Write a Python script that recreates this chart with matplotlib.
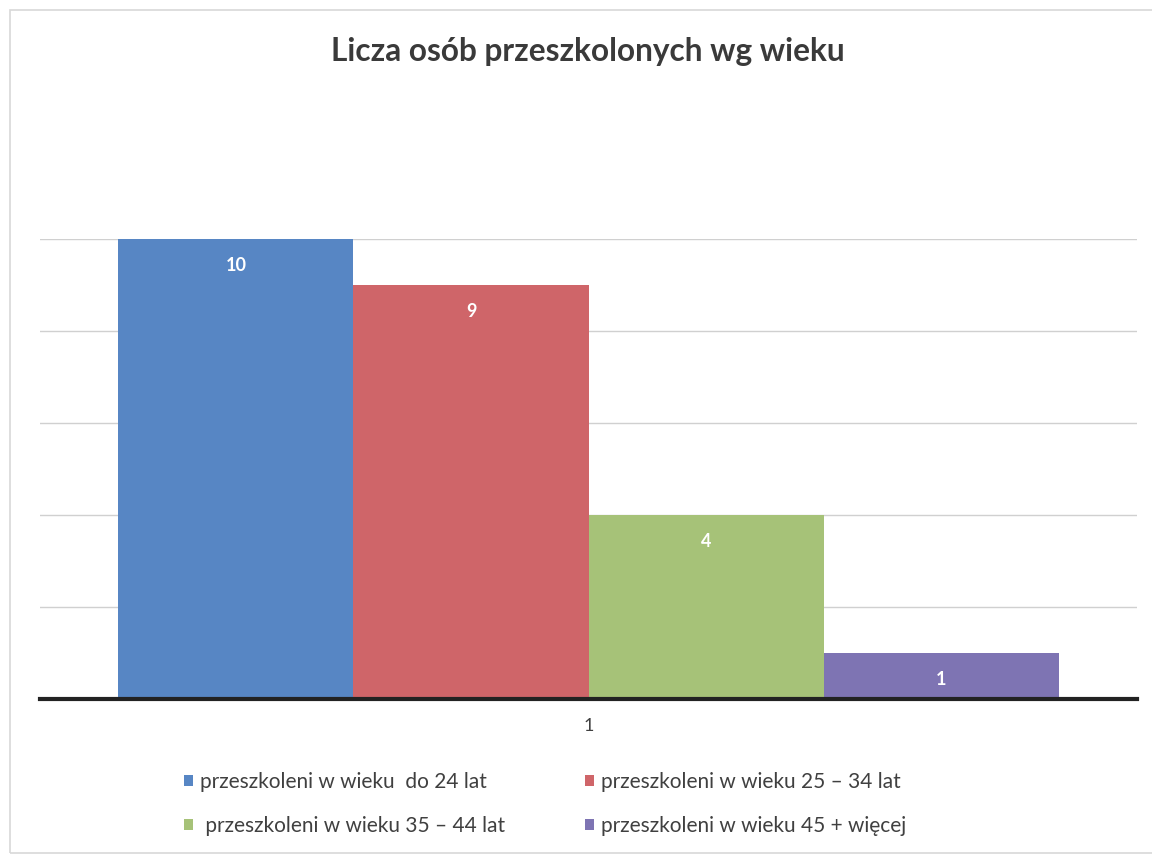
import numpy as np
import matplotlib.pyplot as plt
from matplotlib.patches import Rectangle

plt.rcParams['font.family'] = ['Lato', 'DejaVu Sans']

title = 'Licza osób przeszkolonych wg wieku'
series = ['przeszkoleni w wieku  do 24 lat',
          'przeszkoleni w wieku 25 – 34 lat',
          ' przeszkoleni w wieku 35 – 44 lat',
          'przeszkoleni w wieku 45 + więcej']
values = [10, 9, 4, 1]
colors = ['#5786C4', '#CF6569', '#A6C278', '#7E74B3']
category = ['1']

W, H = 1152, 855
fig = plt.figure(figsize=(W / 100, H / 100), dpi=100)

# faint chart frame
fig.patches.append(Rectangle((10 / W, 0.002), 1.1, 1 - 10 / H - 0.002, transform=fig.transFigure,
                             fill=False, edgecolor='#d8d8d8', lw=1.2))

ax = fig.add_axes([40 / W, 1 - 699 / H, (1137 - 40) / W, (699 - 239) / H])

x = np.arange(len(values)) - 1.5
bars = ax.bar(x, values, width=1.0, color=colors, label=series, zorder=2)
for b, v in zip(bars, values):
    ax.text(b.get_x() + b.get_width() / 2, v - 0.58, str(v), ha='center', va='center',
            color='white', fontsize=13, fontweight='bold', zorder=3)

ax.set_xlim(-2.334, 2.334)
ax.set_ylim(0, 10)
ax.set_yticks([2, 4, 6, 8, 10])
ax.yaxis.grid(True, color='#d0d0d0', lw=1, zorder=0)
ax.tick_params(axis='y', left=False, labelleft=False)
ax.set_xticks([0])
ax.set_xticklabels(category, fontsize=13, color='#404040')
ax.tick_params(axis='x', length=0, pad=14)
for s in ['top', 'right', 'left']:
    ax.spines[s].set_visible(False)
ax.spines['bottom'].set_color('#222222')
ax.spines['bottom'].set_linewidth(3)
ax.spines['bottom'].set_zorder(4)

fig.text(588 / W, 1 - 52 / H, title, ha='center', va='center', fontsize=22.8,
         fontweight='bold', color='#3a3a3a')

# row-wise order like the original legend
order = [0, 2, 1, 3]
fig.legend(handles=[bars[i] for i in order], labels=[series[i] for i in order],
           loc='upper left', bbox_to_anchor=(184 / W, 1 - 772 / H), borderpad=0, borderaxespad=0,
           ncol=2, frameon=False, fontsize=15, handlelength=0.42, handleheight=0.42,
           handletextpad=0.35, columnspacing=3.85, labelspacing=1.15, labelcolor='#404040')

fig.savefig('out.png', dpi=100)
